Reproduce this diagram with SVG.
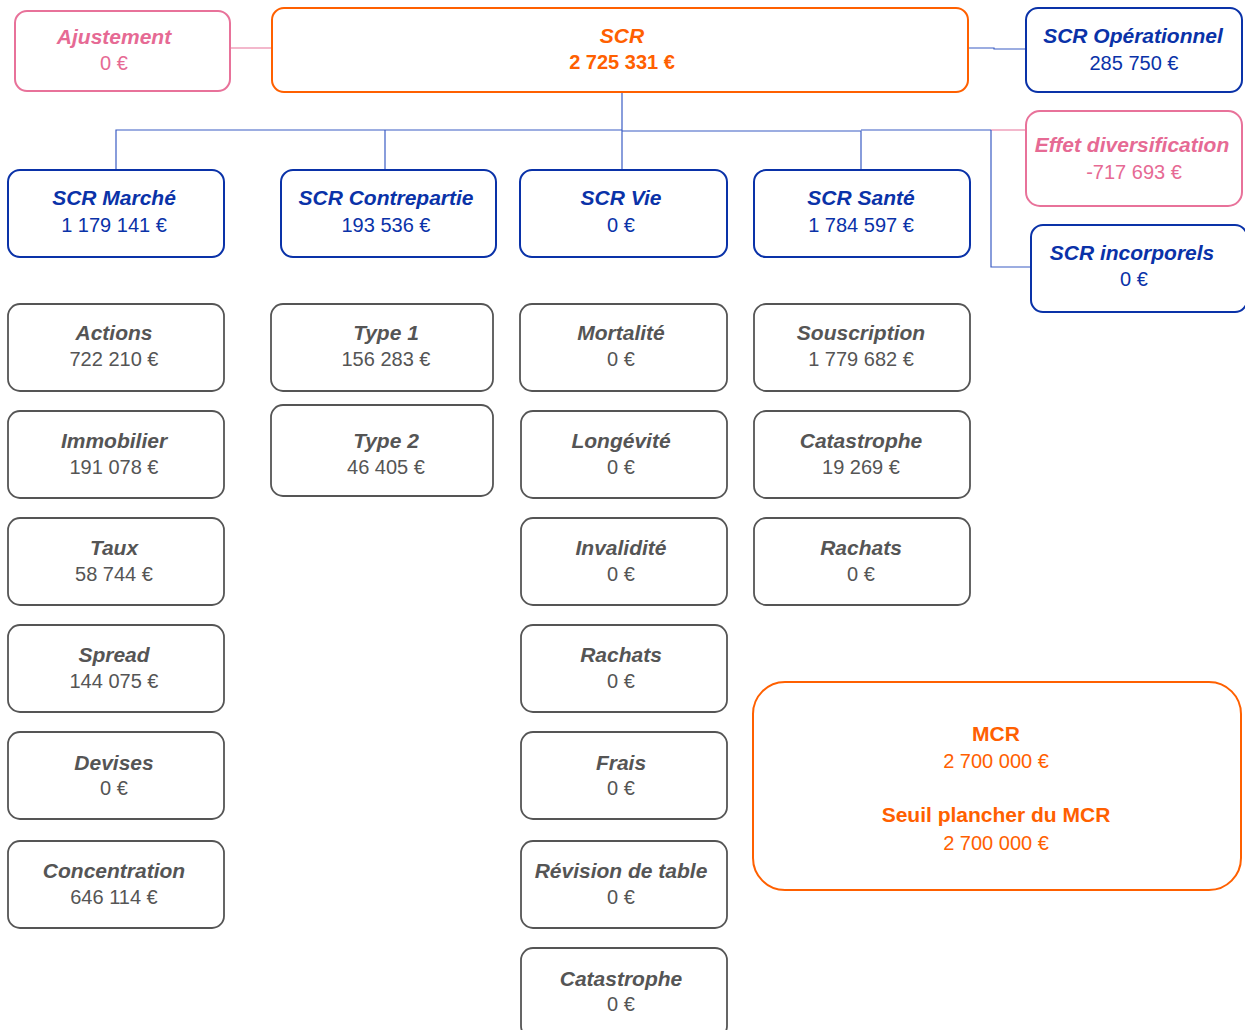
<svg xmlns="http://www.w3.org/2000/svg" width="1245" height="1030" viewBox="0 0 1245 1030">
<style>
text{font-family:"Liberation Sans",Arial,sans-serif;font-size:20px;text-anchor:middle}
.t{font-weight:bold;font-style:italic;font-size:21px}
.b{font-weight:bold}
.mb{font-weight:bold;font-size:21px}
rect{fill:#fff;stroke-width:2}
.blue rect{stroke:#0a32a8}
.blue text{fill:#0a32a8}
.gray rect{stroke:#555;stroke-width:1.8}
.gray text{fill:#555}
.org rect{stroke:#ff6000}
.org text{fill:#ff6000}
.pink rect{stroke:#e8729a}
.pink text{fill:#e66a94}
.c line,.c polyline{fill:none;stroke:#3a5cc4;stroke-width:1.2}
.c .p{stroke:#e8729a}
</style>
<g class="c" id="connectors">
<line class="p" x1="230" y1="48" x2="272" y2="48"/>
<polyline points="968,48 994,48 994,49 1026,49"/>
<line x1="622" y1="92" x2="622" y2="170"/>
<polyline points="116,170 116,130 622,130"/>
<line x1="385" y1="130" x2="385" y2="170"/>
<polyline points="622,131 861,131 861,170"/>
<line x1="861" y1="130" x2="991" y2="130"/>
<line class="p" x1="991" y1="130" x2="1026" y2="130"/>
<polyline points="991,130 991,267 1031,267"/>
</g>
<g id="ajustement" class="pink"><rect x="15" y="11" width="215" height="80" rx="12"/><text class="t" x="114" y="44">Ajustement</text><text x="114" y="70">0 €</text></g>
<g id="scr" class="org"><rect x="272" y="8" width="696" height="84" rx="12"/><text class="t" x="622" y="43">SCR</text><text class="b" x="622" y="69">2 725 331 €</text></g>
<g id="scr-operationnel" class="blue"><rect x="1026" y="8" width="216" height="84" rx="12"/><text class="t" x="1133" y="43">SCR Opérationnel</text><text x="1134" y="70">285 750 €</text></g>
<g id="effet-diversification" class="pink"><rect x="1026" y="111" width="216" height="95" rx="14"/><text class="t" x="1132" y="152">Effet diversification</text><text x="1134" y="179">-717 693 €</text></g>
<g id="scr-incorporels" class="blue"><rect x="1031" y="225" width="216" height="87" rx="12"/><text class="t" x="1132" y="260">SCR incorporels</text><text x="1134" y="286">0 €</text></g>
<g id="scr-marche" class="blue"><rect x="8" y="170" width="216" height="87" rx="12"/><text class="t" x="114" y="205">SCR Marché</text><text x="114" y="232">1 179 141 €</text></g>
<g id="scr-contrepartie" class="blue"><rect x="281" y="170" width="215" height="87" rx="12"/><text class="t" x="386" y="205">SCR Contrepartie</text><text x="386" y="232">193 536 €</text></g>
<g id="scr-vie" class="blue"><rect x="520" y="170" width="207" height="87" rx="12"/><text class="t" x="621" y="205">SCR Vie</text><text x="621" y="232">0 €</text></g>
<g id="scr-sante" class="blue"><rect x="754" y="170" width="216" height="87" rx="12"/><text class="t" x="861" y="205">SCR Santé</text><text x="861" y="232">1 784 597 €</text></g>
<g id="actions" class="gray"><rect x="8" y="304" width="216" height="87" rx="12"/><text class="t" x="114" y="340">Actions</text><text x="114" y="366">722 210 €</text></g>
<g id="immobilier" class="gray"><rect x="8" y="411" width="216" height="87" rx="12"/><text class="t" x="114" y="448">Immobilier</text><text x="114" y="474">191 078 €</text></g>
<g id="taux" class="gray"><rect x="8" y="518" width="216" height="87" rx="12"/><text class="t" x="114" y="555">Taux</text><text x="114" y="581">58 744 €</text></g>
<g id="spread" class="gray"><rect x="8" y="625" width="216" height="87" rx="12"/><text class="t" x="114" y="662">Spread</text><text x="114" y="688">144 075 €</text></g>
<g id="devises" class="gray"><rect x="8" y="732" width="216" height="87" rx="12"/><text class="t" x="114" y="770">Devises</text><text x="114" y="795">0 €</text></g>
<g id="concentration" class="gray"><rect x="8" y="841" width="216" height="87" rx="12"/><text class="t" x="114" y="878">Concentration</text><text x="114" y="904">646 114 €</text></g>
<g id="type1" class="gray"><rect x="271" y="304" width="222" height="87" rx="12"/><text class="t" x="386" y="340">Type 1</text><text x="386" y="366">156 283 €</text></g>
<g id="type2" class="gray"><rect x="271" y="405" width="222" height="91" rx="12"/><text class="t" x="386" y="448">Type 2</text><text x="386" y="474">46 405 €</text></g>
<g id="mortalite" class="gray"><rect x="520" y="304" width="207" height="87" rx="12"/><text class="t" x="621" y="340">Mortalité</text><text x="621" y="366">0 €</text></g>
<g id="longevite" class="gray"><rect x="521" y="411" width="206" height="87" rx="12"/><text class="t" x="621" y="448">Longévité</text><text x="621" y="474">0 €</text></g>
<g id="invalidite" class="gray"><rect x="521" y="518" width="206" height="87" rx="12"/><text class="t" x="621" y="555">Invalidité</text><text x="621" y="581">0 €</text></g>
<g id="rachats-vie" class="gray"><rect x="521" y="625" width="206" height="87" rx="12"/><text class="t" x="621" y="662">Rachats</text><text x="621" y="688">0 €</text></g>
<g id="frais" class="gray"><rect x="521" y="732" width="206" height="87" rx="12"/><text class="t" x="621" y="770">Frais</text><text x="621" y="795">0 €</text></g>
<g id="revision-table" class="gray"><rect x="521" y="841" width="206" height="87" rx="12"/><text class="t" x="621" y="878">Révision de table</text><text x="621" y="904">0 €</text></g>
<g id="catastrophe-vie" class="gray"><rect x="521" y="948" width="206" height="90" rx="12"/><text class="t" x="621" y="986">Catastrophe</text><text x="621" y="1011">0 €</text></g>
<g id="souscription" class="gray"><rect x="754" y="304" width="216" height="87" rx="12"/><text class="t" x="861" y="340">Souscription</text><text x="861" y="366">1 779 682 €</text></g>
<g id="catastrophe-sante" class="gray"><rect x="754" y="411" width="216" height="87" rx="12"/><text class="t" x="861" y="448">Catastrophe</text><text x="861" y="474">19 269 €</text></g>
<g id="rachats-sante" class="gray"><rect x="754" y="518" width="216" height="87" rx="12"/><text class="t" x="861" y="555">Rachats</text><text x="861" y="581">0 €</text></g>
<g id="mcr" class="org"><rect x="753" y="682" width="488" height="208" rx="32"/><text class="mb" x="996" y="741">MCR</text><text x="996" y="768">2 700 000 €</text><text class="mb" x="996" y="822">Seuil plancher du MCR</text><text x="996" y="850">2 700 000 €</text></g>
</svg>
